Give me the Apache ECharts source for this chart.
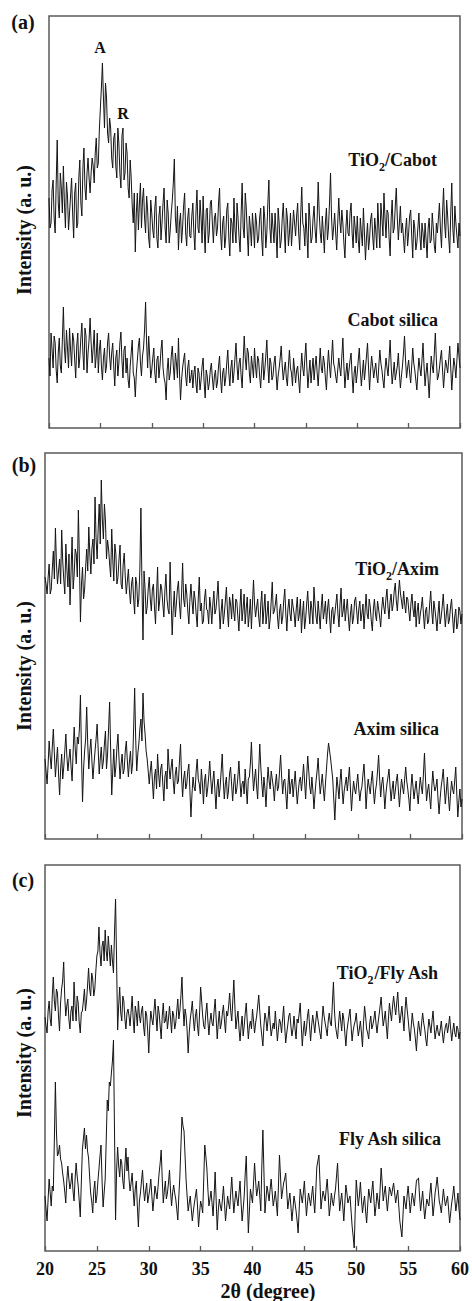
<!DOCTYPE html>
<html>
<head>
<meta charset="utf-8">
<script src="https://cdn.jsdelivr.net/npm/echarts@6/dist/echarts.min.js"></script>
<style>
html,body{margin:0;padding:0;background:#fff;}
#chart{width:472px;height:1301px;}
</style>
</head>
<body>
<div id="chart"></div>
<script>
// 2θ scan: 20° to 60°, step 0.1°
const angleStart = 20;
const angleStep = 0.1;
const xTicks = [20, 25, 30, 35, 40, 45, 50, 55, 60];

// Panel (a)
const tio2Cabot = [
230,200,205,238,248,210,195,245,288,225,210,255,240,215,262,225,200,246,232,198,
215,232,250,215,190,235,245,200,205,250,268,225,212,260,280,240,228,255,270,250,
235,255,270,262,245,275,290,260,265,298,320,340,365,330,300,345,330,295,285,310,
300,270,260,290,295,262,250,300,285,255,240,292,300,248,255,285,275,240,230,268,
250,222,205,235,176,215,235,198,225,245,200,228,240,210,195,232,218,190,180,228,
215,198,190,220,232,190,180,212,222,188,205,225,240,200,185,228,215,185,198,215,
228,245,269,210,195,222,178,205,215,185,200,222,235,195,182,210,220,192,190,212,
225,195,178,215,238,200,195,228,210,185,232,200,175,218,220,185,196,225,228,205,
185,210,215,192,200,225,240,195,178,205,212,180,190,218,225,190,172,210,205,185,
230,198,185,225,210,190,176,215,245,200,190,235,220,195,172,212,200,182,215,200,
180,215,205,185,190,210,220,190,172,222,210,180,195,225,248,200,185,215,200,185,
215,195,170,220,205,180,188,210,225,198,175,220,210,182,195,215,182,200,218,205,
192,212,225,195,178,215,241,205,200,182,215,195,170,225,208,185,190,210,222,198,
185,210,246,215,195,185,212,195,175,205,220,188,200,225,255,210,188,200,215,195,
178,205,230,208,195,218,205,185,170,200,218,195,192,215,225,195,180,212,200,185,
212,188,175,210,195,182,220,195,168,190,205,178,190,208,215,192,178,210,198,180,
225,200,180,225,210,192,235,210,190,218,215,190,172,210,228,195,200,222,240,210,
188,205,222,195,205,190,175,198,210,182,195,212,218,192,170,208,200,178,185,200,
215,192,178,205,195,180,205,188,170,200,210,185,188,215,200,182,175,205,195,210,
225,198,180,215,240,205,190,228,212,190,175,215,245,200,185,222,205,192,180,205,
192];
const cabotSilica = [
70,52,95,78,60,92,85,58,45,75,90,62,55,88,121,80,65,98,80,60,
100,78,62,95,88,68,50,82,95,60,70,90,105,75,58,100,92,55,75,88,
110,85,65,80,98,60,72,95,55,78,88,62,48,70,80,55,62,85,95,72,
58,75,85,62,42,70,78,52,65,85,96,68,50,78,82,55,70,48,40,62,
75,88,55,50,31,55,68,82,90,65,52,72,80,98,126,85,60,92,72,50,
58,70,80,55,45,68,72,50,62,78,88,60,50,45,28,58,70,48,55,72,
82,62,48,75,65,50,90,55,28,48,60,68,75,52,42,60,68,45,50,58,
40,55,62,45,35,60,55,38,48,62,70,45,30,58,52,38,45,58,65,50,
38,52,58,40,46,62,72,50,35,55,60,42,50,65,78,55,42,60,68,45,
55,70,85,62,48,65,70,52,40,68,92,70,58,80,75,55,45,72,62,50,
80,62,50,72,68,52,40,60,75,48,58,72,88,62,45,70,65,48,52,65,
72,55,38,52,60,70,82,62,48,58,66,50,42,62,78,60,55,42,70,58,
45,58,62,48,35,58,75,60,52,70,85,60,40,55,68,45,58,70,48,62,
72,55,42,62,80,60,55,72,65,50,38,60,78,62,50,70,88,65,60,52,
45,58,70,60,52,72,90,62,40,55,65,48,58,68,75,52,35,55,62,45,
55,68,80,58,42,55,68,48,60,72,85,60,38,58,72,62,50,58,65,52,
45,62,78,65,58,48,40,58,70,60,52,70,88,62,44,55,66,48,55,62,
75,55,40,52,62,75,92,68,50,60,68,55,45,62,80,65,58,48,38,55,
70,60,52,68,85,62,42,55,65,48,30,52,72,62,55,75,95,68,48,52,
60,70,78,58,40,55,68,62,55,68,82,60,38,55,70,62,50,68,85,72,
60];

// Panel (b)
const tio2Axim = [
262,255,245,262,275,245,250,270,288,260,311,275,255,268,280,255,309,278,260,245,
295,270,252,285,234,268,302,250,265,290,285,262,329,280,217,255,272,240,250,272,
290,268,312,285,265,290,300,275,342,300,280,310,335,295,359,320,300,335,318,280,
299,290,275,262,310,280,258,295,285,255,262,280,294,255,250,275,286,262,245,258,
270,248,235,255,262,240,225,262,255,232,240,270,331,255,199,268,250,225,232,250,
262,240,228,250,255,232,215,245,272,228,238,255,250,235,222,248,265,240,230,225,
277,238,204,230,248,222,235,250,258,235,220,245,276,240,232,255,245,228,215,240,
255,238,225,248,240,225,212,240,262,228,236,215,218,240,250,230,228,215,242,232,
215,235,248,225,230,242,258,232,210,228,240,215,225,238,252,228,212,242,235,220,
245,228,218,240,238,222,208,232,250,218,230,245,215,230,242,212,225,240,210,235,
259,235,222,232,240,222,212,235,248,215,230,245,215,225,238,210,220,238,257,225,
228,235,245,222,210,228,235,215,222,238,250,225,208,230,240,225,218,240,232,225,
212,230,242,218,225,240,206,225,238,210,220,235,248,228,215,238,230,215,252,235,
222,215,238,225,210,232,245,220,228,238,215,230,240,222,206,228,232,215,225,235,
245,225,212,235,251,222,228,240,218,230,240,222,208,225,235,215,222,238,242,228,
215,230,238,218,225,235,210,228,245,225,220,240,232,218,208,230,240,225,218,238,
230,222,212,230,242,232,225,240,250,232,220,238,245,228,235,248,256,238,228,245,
259,245,238,230,248,235,226,242,240,228,218,235,245,230,222,238,212,228,236,215,
225,232,242,225,210,228,232,215,218,235,248,228,215,238,230,220,208,225,238,215,
222,232,245,228,212,225,235,215,220,232,240,222,206,222,230,210,215,232,228,215,
225];
const aximSilica = [
80,68,55,75,98,82,70,92,110,85,62,78,92,65,44,70,85,60,72,88,
105,82,68,80,90,72,58,88,112,90,75,102,95,110,144,85,37,70,88,100,
132,95,70,88,100,78,60,75,88,100,115,90,65,80,92,70,78,95,108,70,
85,110,137,88,44,68,90,62,72,92,105,80,60,75,85,65,70,88,98,78,
62,78,88,65,75,110,151,100,68,85,95,110,120,98,146,118,105,88,80,68,
55,68,78,58,40,62,70,50,85,65,52,70,75,55,38,62,68,50,90,72,
60,72,80,58,45,65,72,55,58,78,95,62,42,60,68,50,55,68,75,48,
22,45,62,52,48,68,80,60,55,45,70,55,35,58,65,42,50,62,78,60,
45,58,68,48,30,52,60,42,52,68,85,58,40,55,62,40,48,65,72,55,
38,55,65,45,50,62,78,58,42,55,58,45,70,52,35,60,62,75,97,70,
48,60,70,52,40,68,95,72,55,42,62,50,32,55,72,58,50,68,60,52,
38,55,65,48,52,68,84,62,45,58,60,45,30,52,70,45,55,60,42,55,
68,50,35,48,58,62,48,60,75,58,40,62,83,68,52,45,62,48,30,45,
58,68,81,60,45,55,65,50,38,55,70,85,96,88,80,70,60,40,19,42,
62,52,40,58,70,50,35,48,55,62,48,60,72,50,28,45,58,50,45,55,
65,50,38,48,52,65,75,55,30,48,60,52,45,58,68,50,35,48,55,68,
84,60,42,55,62,48,30,45,55,62,70,52,38,50,58,40,48,58,65,48,
32,48,60,52,45,60,72,58,50,40,28,50,65,52,40,50,58,45,35,50,
62,52,45,65,86,60,38,48,55,42,30,52,68,55,48,52,60,40,25,40,
52,60,70,52,35,48,62,42,28,45,58,50,45,58,72,45,22,38,50,32,
40];

// Panel (c)
const tio2FlyAsh = [
234,225,218,240,250,232,225,255,274,250,240,262,258,235,220,248,262,270,289,255,
235,245,252,232,222,240,245,230,269,245,230,255,248,228,218,238,240,250,262,240,
250,265,283,262,255,278,272,255,262,280,295,300,324,298,285,305,310,290,321,300,
290,315,300,285,306,290,278,318,352,290,221,245,264,238,230,255,250,232,222,238,
242,235,225,240,255,232,218,245,238,225,250,235,228,240,245,225,215,240,236,220,
198,225,240,232,226,240,252,235,220,245,238,225,212,235,248,228,230,240,222,232,
245,232,218,240,236,222,228,240,252,232,240,255,274,245,225,242,235,220,198,218,
232,240,250,232,220,235,242,225,215,238,264,250,235,225,222,238,248,230,216,230,
238,228,225,240,252,232,212,228,240,222,228,238,246,230,218,240,235,245,258,240,
230,250,271,245,222,232,240,222,210,225,235,215,225,238,248,228,212,225,230,222,
242,230,218,228,235,245,256,240,225,215,205,225,238,232,220,232,245,228,215,222,
228,222,240,225,210,222,232,228,218,232,245,225,208,218,226,235,238,225,215,222,
235,222,212,232,228,238,248,225,205,220,230,215,222,235,242,225,210,225,236,228,
218,230,240,232,225,218,212,230,245,235,228,222,215,230,238,228,225,248,269,240,
225,218,212,228,240,230,220,238,232,218,205,220,228,235,242,225,210,220,226,230,
238,225,215,222,230,218,204,228,245,235,222,218,212,228,235,222,226,232,240,228,
218,228,236,245,254,238,225,232,240,225,212,232,248,238,230,245,255,245,236,248,
259,240,228,236,245,232,220,240,254,242,232,220,210,225,238,228,222,212,200,218,
230,222,215,228,238,228,222,212,205,220,232,225,218,230,240,225,212,220,226,218,
215,222,230,218,208,218,225,228,218,225,235,222,210,220,228,218,214,225,222,212,
219];
const flyAshSilica = [
55,42,30,52,72,58,45,65,60,110,169,120,95,98,106,92,88,78,70,60,
48,70,85,72,62,68,78,60,50,72,88,75,65,50,34,68,101,112,123,102,
116,100,93,75,58,50,38,60,70,48,55,70,82,95,106,70,44,58,72,110,
151,140,169,165,178,190,211,120,31,80,104,85,74,92,88,70,62,85,103,80,
94,72,60,68,78,60,45,62,70,45,24,50,58,70,81,62,50,60,68,48,
55,62,72,55,40,52,65,58,52,65,78,88,101,72,48,60,70,52,58,68,
81,60,45,58,66,58,52,42,31,55,75,105,134,125,120,95,71,55,40,48,
55,42,30,40,48,55,62,45,24,38,50,45,38,72,106,95,83,62,45,52,
60,48,35,55,79,50,21,40,52,45,40,52,65,48,30,42,55,48,42,58,
74,55,38,50,60,52,45,58,70,48,30,42,55,78,95,55,18,40,62,55,
48,68,88,70,55,62,70,55,40,85,121,80,38,52,65,58,50,62,72,58,
45,52,60,48,35,65,96,75,52,60,68,72,78,60,42,50,58,45,30,42,
55,48,40,30,18,42,62,55,48,58,70,52,35,48,58,52,45,55,65,50,
38,60,84,90,96,70,42,52,60,55,50,62,72,55,35,45,58,50,45,55,
62,75,88,62,40,50,58,45,30,48,66,58,48,52,55,40,25,15,3,40,
71,58,45,55,69,52,38,48,55,40,28,45,62,55,48,60,70,52,35,45,
58,50,42,62,83,68,50,58,65,52,40,52,64,60,55,62,68,58,48,55,
61,45,30,22,14,35,55,48,42,55,65,52,38,48,58,52,45,58,70,72,
73,55,40,50,60,45,32,42,52,48,45,58,68,52,35,45,58,65,74,62,
50,45,38,50,62,52,45,50,55,42,28,38,48,55,65,52,40,48,58,42,
31];

const panelMax = [412, 386, 386];

function pairs(arr) {
  return arr.map((v, i) => [+(angleStart + i * angleStep).toFixed(2), v]);
}

const chart = echarts.init(document.getElementById('chart'), null, {renderer: 'svg'});
const serif = '"Liberation Serif", "Times New Roman", serif';
const frameColor = '#5a5a5a';
const lineColor = '#141414';

const grids = [
  {left: 49, top: 16, width: 411, height: 412},
  {left: 45, top: 453, width: 417, height: 386},
  {left: 45, top: 865, width: 418, height: 386}
].map(g => Object.assign({show: true, borderColor: frameColor, borderWidth: 1.5, backgroundColor: 'transparent'}, g));

const xAxes = [0, 1, 2].map(i => ({
  type: 'value', gridIndex: i, min: xTicks[0], max: xTicks[xTicks.length - 1], interval: 5,
  axisLine: {show: false},
  axisTick: {show: true, inside: true, length: 5, lineStyle: {color: frameColor, width: 1.3}},
  splitLine: {show: false},
  axisLabel: {show: i === 2, fontFamily: serif, fontWeight: 'bold', fontSize: 18, color: '#111', margin: 9}
}));
const yAxes = [0, 1, 2].map(i => ({
  type: 'value', gridIndex: i, min: 0, max: panelMax[i], show: false
}));

const seriesDefs = [
  [tio2Cabot, 0], [cabotSilica, 0],
  [tio2Axim, 1], [aximSilica, 1],
  [tio2FlyAsh, 2], [flyAshSilica, 2]
];
const series = seriesDefs.map(([arr, g]) => ({
  type: 'line', xAxisIndex: g, yAxisIndex: g, data: pairs(arr),
  showSymbol: false, symbol: 'none', silent: true,
  lineStyle: {color: lineColor, width: 1}
}));

function txt(x, y, text, size, opts) {
  return Object.assign({
    type: 'text', x: x, y: y, silent: true,
    style: {text: text, fill: '#111', font: 'bold ' + size + 'px ' + serif,
      textAlign: 'center', textVerticalAlign: 'middle'}
  }, opts && opts.rotation ? {rotation: opts.rotation} : {});
}
function subLabel(x, y, pre, sub, post) {
  return {
    type: 'text', x: x, y: y, silent: true,
    style: {
      text: '{m|' + pre + '}{s|' + sub + '}{m|' + post + '}',
      textAlign: 'right', textVerticalAlign: 'middle',
      rich: {
        m: {fontFamily: serif, fontWeight: 'bold', fontSize: 18, fill: '#111', lineHeight: 26, verticalAlign: 'middle'},
        s: {fontFamily: serif, fontWeight: 'bold', fontSize: 12, fill: '#111', lineHeight: 12, verticalAlign: 'bottom'}
      }
    }
  };
}
function plainLabel(x, y, t) {
  return {
    type: 'text', x: x, y: y, silent: true,
    style: {text: t, fill: '#111', font: 'bold 18px ' + serif, textAlign: 'right', textVerticalAlign: 'middle'}
  };
}

const graphics = [
  txt(23, 22, '(a)', 20),
  txt(24, 465, '(b)', 20),
  txt(23, 880, '(c)', 20),
  txt(24, 230, 'Intensity (a. u.)', 20, {rotation: Math.PI / 2}),
  txt(24, 666, 'Intensity (a. u.)', 20, {rotation: Math.PI / 2}),
  txt(24, 1053, 'Intensity (a. u.)', 20, {rotation: Math.PI / 2}),
  txt(268, 1291, '2θ (degree)', 20),
  txt(100, 47, 'A', 16),
  txt(123, 113, 'R', 16),
  subLabel(437, 160, 'TiO', '2', '/Cabot'),
  plainLabel(438, 320, 'Cabot silica'),
  subLabel(439, 569, 'TiO', '2', '/Axim'),
  plainLabel(439, 729, 'Axim silica'),
  subLabel(438, 973, 'TiO', '2', '/Fly Ash'),
  plainLabel(441, 1139, 'Fly Ash silica')
];

chart.setOption({
  animation: false,
  backgroundColor: '#fff',
  grid: grids,
  xAxis: xAxes,
  yAxis: yAxes,
  series: series,
  graphic: graphics
});
</script>
</body>
</html>
